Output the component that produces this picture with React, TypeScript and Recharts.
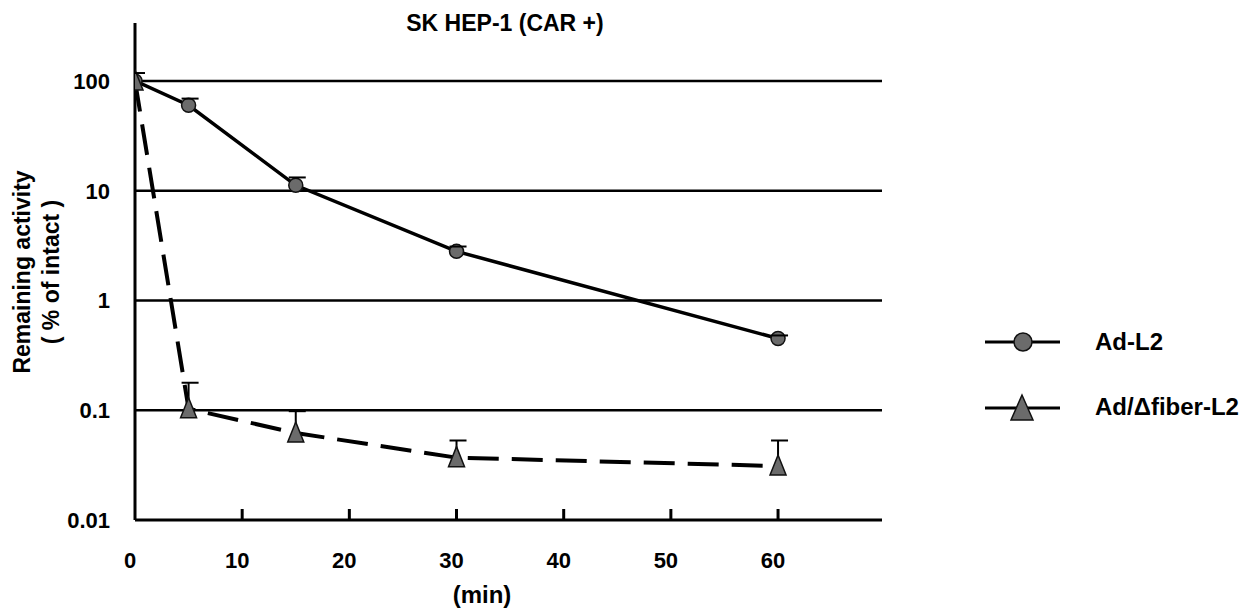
import React from 'react';
import { LineChart, Line, XAxis, YAxis, ReferenceLine, ErrorBar } from 'recharts';

// time points (min)
const minutes = [0, 5, 15, 30, 60];
// Ad-L2, remaining activity (% of intact) and upper SD
const adL2 = [100, 60, 11.2, 2.8, 0.45];
const adL2Err = [18, 9, 2, 0.3, 0.03];
// Ad/Δfiber-L2
const adFiber = [100, 0.103, 0.062, 0.037, 0.031];
const adFiberErr = [0, 0.075, 0.036, 0.016, 0.022];

const xTicks = [0, 10, 20, 30, 40, 50, 60];
const yTicks = [0.01, 0.1, 1, 10, 100];
const gridValues = [0.1, 1, 10, 100];

const FONT = '"Liberation Sans", Arial, Helvetica, sans-serif';
const MARK_FILL = '#6b6b6b';

const data = minutes.map((t, i) => ({
  t,
  ad: adL2[i],
  adRange: [0, adL2Err[i]],
  adTop: adL2[i] + adL2Err[i],
  fib: adFiber[i],
  fibRange: [0, adFiberErr[i]],
  fibTop: adFiberErr[i] > 0 ? adFiber[i] + adFiberErr[i] : null,
}));

const renderCircle = (p: any) => (
  <circle key={`c-${p.index}`} cx={p.cx} cy={p.cy} r={7} fill={MARK_FILL} stroke="#111" strokeWidth={1.5} />
);

const renderTriangle = (p: any) => (
  <polygon
    key={`t-${p.index}`}
    points={`${p.cx},${p.cy - 11} ${p.cx - 8},${p.cy + 9} ${p.cx + 8},${p.cy + 9}`}
    fill={MARK_FILL}
    stroke="#111"
    strokeWidth={1.5}
  />
);

const renderCap = (p: any) => {
  if (p.cy == null || isNaN(p.cy)) return <g key={`cap-${p.dataKey}-${p.index}`} />;
  return (
    <line key={`cap-${p.dataKey}-${p.index}`} x1={p.cx - 7} x2={p.cx + 10} y1={p.cy} y2={p.cy} stroke="#000" strokeWidth={2} />
  );
};

const XTick = ({ x, y, payload }: any) => (
  <g>
    {payload.value !== 0 && <line x1={x} x2={x} y1={y} y2={y - 11} stroke="#000" strokeWidth={3} />}
    <text x={x - 5} y={y + 48} textAnchor="middle" fontFamily={FONT} fontWeight="bold" fontSize={22} fill="#000">
      {payload.value}
    </text>
  </g>
);

const YTick = ({ x, y, payload }: any) => (
  <text x={x} y={y + 8} textAnchor="end" fontFamily={FONT} fontWeight="bold" fontSize={22} fill="#000">
    {payload.value}
  </text>
);

const txt = { fontFamily: FONT, fontWeight: 'bold' as const, fill: '#000' };

function Overlay() {
  return (
    <svg width={1257} height={614} style={{ position: 'absolute', left: 0, top: 0, pointerEvents: 'none' }}>
      <text {...txt} x={505} y={31} fontSize={23} textAnchor="middle">SK HEP-1 (CAR +)</text>
      <text {...txt} x={482} y={603} fontSize={24} textAnchor="middle">(min)</text>
      <g transform="rotate(-90)">
        <text {...txt} x={-272} y={30} fontSize={23} textAnchor="middle">Remaining activity</text>
        <text {...txt} x={-272} y={59} fontSize={23} textAnchor="middle">( % of intact )</text>
      </g>

      {/* legend */}
      <line x1={985} x2={1060} y1={342} y2={342} stroke="#000" strokeWidth={3} />
      <circle cx={1023} cy={342} r={9} fill={MARK_FILL} stroke="#111" strokeWidth={1.5} />
      <text {...txt} x={1095} y={350} fontSize={24}>Ad-L2</text>

      <line x1={985} x2={1060} y1={408} y2={408} stroke="#000" strokeWidth={3} />
      <polygon points="1022,395 1011,420 1033,420" fill={MARK_FILL} stroke="#111" strokeWidth={1.5} />
      <text {...txt} x={1095} y={415} fontSize={24}>Ad/Δfiber-L2</text>
    </svg>
  );
}

export default function App() {
  return (
    <div style={{ position: 'absolute', left: 0, top: 0, width: 1257, height: 614, background: '#fff' }}>
      <LineChart width={1257} height={614} data={data} margin={{ top: 23, right: 375, bottom: 14, left: 15 }}>
        <XAxis
          type="number"
          dataKey="t"
          domain={[0, 69.7]}
          ticks={xTicks}
          height={80}
          tickLine={false}
          tickSize={0}
          tickMargin={0}
          tick={<XTick />}
          axisLine={{ stroke: '#000', strokeWidth: 3 }}
          allowDataOverflow
        />
        <YAxis
          scale="log"
          domain={[0.01, 337]}
          ticks={yTicks}
          allowDataOverflow
          width={120}
          tickLine={false}
          tickSize={0}
          tickMargin={25}
          tick={<YTick />}
          axisLine={{ stroke: '#000', strokeWidth: 3 }}
        />
        {gridValues.map((v) => (
          <ReferenceLine key={v} y={v} stroke="#000" strokeWidth={2.5} />
        ))}
        <Line
          dataKey="ad"
          stroke="#000"
          strokeWidth={3.5}
          dot={renderCircle}
          activeDot={false}
          isAnimationActive={false}
        >
          <ErrorBar dataKey="adRange" width={0} stroke="#000" strokeWidth={2} direction="y" />
        </Line>
        <Line
          dataKey="fib"
          stroke="#000"
          strokeWidth={4}
          strokeDasharray="31 13"
          dot={renderTriangle}
          activeDot={false}
          isAnimationActive={false}
        >
          <ErrorBar dataKey="fibRange" width={0} stroke="#000" strokeWidth={2} direction="y" />
        </Line>
        <Line dataKey="adTop" stroke="none" dot={renderCap} activeDot={false} isAnimationActive={false} legendType="none" />
        <Line dataKey="fibTop" stroke="none" dot={renderCap} activeDot={false} isAnimationActive={false} legendType="none" />
      </LineChart>
      <Overlay />
    </div>
  );
}
